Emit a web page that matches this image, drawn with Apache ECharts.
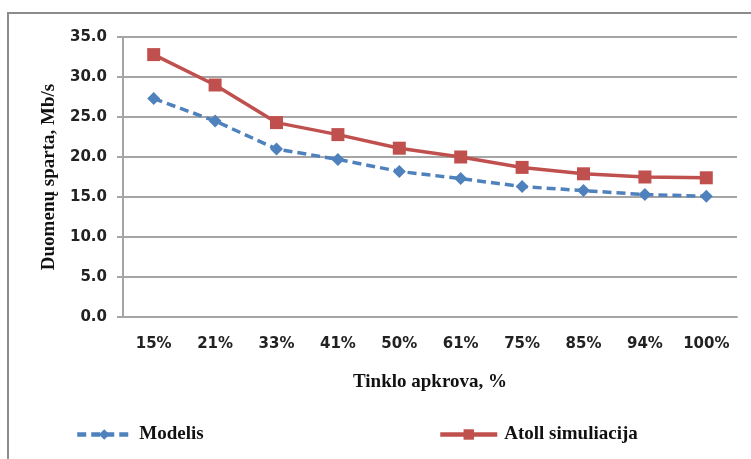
<!DOCTYPE html>
<html>
<head>
<meta charset="utf-8">
<script src="https://cdn.jsdelivr.net/npm/echarts@6/dist/echarts.min.js"></script>
<style>
html,body{margin:0;padding:0;background:#fff;}
#chart{width:751px;height:459px;}
</style>
</head>
<body>
<div id="chart"></div>
<script>
// Network load (%) categories and throughput values (Mb/s)
const loadLevels = ['15%', '21%', '33%', '41%', '50%', '61%', '75%', '85%', '94%', '100%'];
const modelValues = [27.3, 24.5, 21.0, 19.7, 18.2, 17.3, 16.3, 15.8, 15.3, 15.1];
const atollValues = [32.8, 29.0, 24.3, 22.8, 21.1, 20.0, 18.7, 17.9, 17.5, 17.4];
const yTicks = { min: 0, max: 35, step: 5 };

const gridGray = '#a5a5a5';
const labelFont = { fontFamily: 'DejaVu Sans', fontWeight: 'bold', fontSize: 15, color: '#222' };
const serifBold = { fontFamily: 'Liberation Serif', fontWeight: 'bold', fontSize: 19, color: '#111' };

const chart = echarts.init(document.getElementById('chart'), null, { renderer: 'canvas' });
chart.setOption({
  backgroundColor: '#fff',
  animation: false,
  graphic: [{
    type: 'rect',
    shape: { x: 8, y: 13, width: 800, height: 500 },
    style: { fill: 'none', stroke: '#8c8c8c', lineWidth: 2 },
    silent: true
  }],
  grid: { left: 123, right: 14, top: 37, bottom: 142 },
  xAxis: {
    type: 'category',
    data: loadLevels,
    boundaryGap: true,
    axisLine: { lineStyle: { color: gridGray, width: 2 } },
    axisTick: { show: false },
    axisLabel: Object.assign({ margin: 20 }, labelFont),
    name: 'Tinklo apkrova, %',
    nameLocation: 'middle',
    nameGap: 56,
    nameTextStyle: serifBold
  },
  yAxis: {
    type: 'value',
    min: yTicks.min,
    max: yTicks.max,
    interval: yTicks.step,
    axisLine: { show: true, lineStyle: { color: gridGray, width: 2 } },
    axisTick: { show: true, length: 6, lineStyle: { color: gridGray, width: 2 } },
    splitLine: { lineStyle: { color: gridGray, width: 2 } },
    axisLabel: Object.assign({ margin: 16, formatter: v => v.toFixed(1) }, labelFont),
    name: 'Duomenų sparta, Mb/s',
    nameLocation: 'middle',
    nameGap: 56,
    nameTextStyle: serifBold
  },
  legend: [{
    data: ['Modelis'],
    left: 70, top: 420,
    itemWidth: 54, itemHeight: 13, itemGap: 10,
    lineStyle: { width: 4.5 },
    textStyle: Object.assign({ padding: [0, 0, 0, 3] }, serifBold)
  }, {
    data: ['Atoll simuliacija'],
    left: 433, top: 420,
    itemWidth: 57, itemHeight: 13, itemGap: 10,
    lineStyle: { width: 4.5 },
    textStyle: Object.assign({ padding: [0, 0, 0, 2] }, serifBold)
  }],
  series: [{
    name: 'Modelis',
    type: 'line',
    data: modelValues,
    symbol: 'diamond',
    symbolSize: 13,
    color: '#4f81bd',
    lineStyle: { color: '#4f81bd', width: 3.5, type: [9, 5] },
    itemStyle: { color: '#4f81bd' },
    z: 3
  }, {
    name: 'Atoll simuliacija',
    type: 'line',
    data: atollValues,
    symbol: 'rect',
    symbolSize: 13,
    color: '#c0504d',
    lineStyle: { color: '#c0504d', width: 3.5 },
    itemStyle: { color: '#c0504d' },
    z: 4
  }]
});
</script>
</body>
</html>
